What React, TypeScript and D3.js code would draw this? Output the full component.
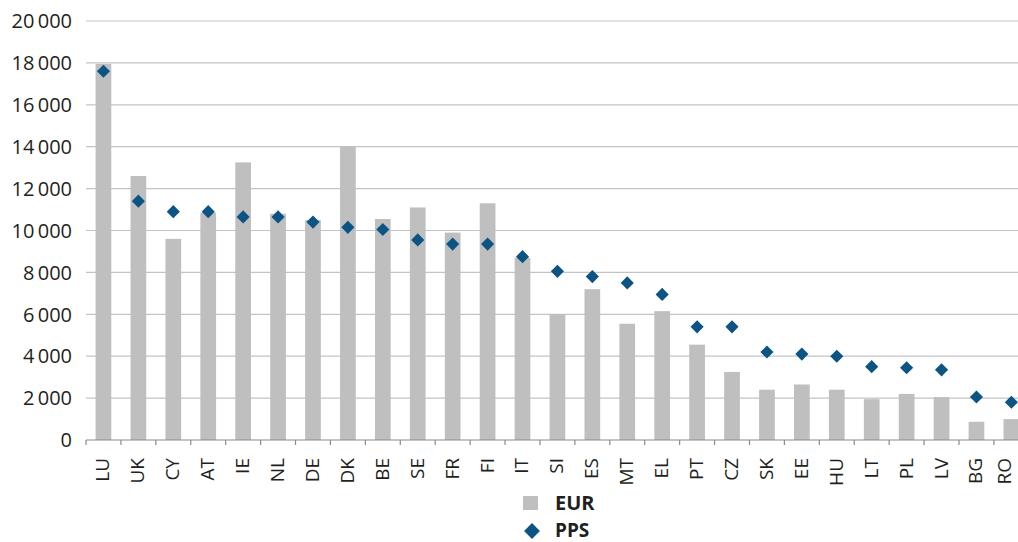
import React from "react";
import * as d3 from "d3";

const countries = ["LU", "UK", "CY", "AT", "IE", "NL", "DE", "DK", "BE", "SE", "FR", "FI", "IT", "SI", "ES", "MT", "EL", "PT", "CZ", "SK", "EE", "HU", "LT", "PL", "LV", "BG", "RO"];
const eurValues = [17950, 12600, 9600, 10850, 13250, 10800, 10500, 14000, 10550, 11100, 9900, 11300, 8700, 6000, 7200, 5550, 6150, 4550, 3250, 2400, 2650, 2400, 1950, 2200, 2050, 870, 1000];
const ppsValues = [17600, 11400, 10900, 10900, 10650, 10650, 10400, 10150, 10050, 9550, 9350, 9350, 8750, 8050, 7800, 7500, 6950, 5400, 5400, 4200, 4100, 4000, 3500, 3450, 3350, 2050, 1800];
const yTicks = [0, 2000, 4000, 6000, 8000, 10000, 12000, 14000, 16000, 18000, 20000];
const legendItems = ["EUR", "PPS"];

const W = 1018;
const H = 542;
const font = "'Open Sans', sans-serif";
const textColor = "#231f20";
const barColor = "#bfbfbf";
const ppsColor = "#0b5483";

const App = () => {
  const left = 86;
  const step = 34.92;
  const bottom = 440;

  const x = d3.scaleBand<string>()
    .domain(countries)
    .range([left, left + step * countries.length])
    .paddingInner(0)
    .paddingOuter(0);

  const y = d3.scaleLinear().domain([0, 20000]).range([bottom, 21]);

  const barW = x.bandwidth() * 0.45;
  const fmt = (v: number) => d3.format(",")(v).replace(/,/g, "\u2009");
  const diamond = d3.symbol().type(d3.symbolDiamond2).size(110);
  const legendDiamond = d3.symbol().type(d3.symbolDiamond2).size(160);

  return (
    <svg
      width={W}
      height={H}
      style={{ position: "absolute", left: 0, top: 0, background: "#fff", display: "block" }}
      fontFamily={font}
    >
      {/* grid */}
      <g>
        {yTicks.filter((t) => t > 0).map((t) => (
          <line key={`g-${t}`} x1={left} x2={W} y1={y(t)} y2={y(t)} stroke="#c3c3c3" strokeWidth={1.2} />
        ))}
      </g>

      {/* y labels */}
      <g>
        {yTicks.map((t) => (
          <text
            key={`yl-${t}`}
            x={72}
            y={y(t)}
            dy="0.36em"
            textAnchor="end"
            fontSize={20}
            fill={textColor}
          >
            {fmt(t)}
          </text>
        ))}
      </g>

      {/* bars */}
      <g>
        {countries.map((c, i) => (
          <rect
            key={`b-${c}`}
            x={(x(c) as number) + x.bandwidth() / 2 - barW / 2}
            y={y(eurValues[i])}
            width={barW}
            height={bottom - y(eurValues[i])}
            fill={barColor}
          />
        ))}
      </g>

      {/* x axis */}
      <g>
        <line x1={left} x2={W} y1={bottom} y2={bottom} stroke="#8a8a8a" strokeWidth={1.2} />
        {countries.map((c) => (
          <line
            key={`t-${c}`}
            x1={x(c) as number}
            x2={x(c) as number}
            y1={bottom}
            y2={bottom + 5}
            stroke="#8a8a8a"
            strokeWidth={1.2}
          />
        ))}
        {countries.map((c) => {
          // last label sits right at the edge, keep it inside
          const cx = Math.min((x(c) as number) + x.bandwidth() / 2 - 0.5, W - 13);
          return (
            <text
              key={`xl-${c}`}
              transform={`translate(${cx},458) rotate(-90)`}
              dy="0.34em"
              textAnchor="end"
              fontSize={19}
              fill={textColor}
            >
              {c}
            </text>
          );
        })}
      </g>

      {/* PPS diamonds */}
      <g>
        {countries.map((c, i) => (
          <path
            key={`d-${c}`}
            d={diamond() as string}
            transform={`translate(${(x(c) as number) + x.bandwidth() / 2},${y(ppsValues[i])})`}
            fill={ppsColor}
          />
        ))}
      </g>

      {/* legend */}
      <g>
        <rect x={523} y={496} width={15} height={14} fill={barColor} />
        <text x={555} y={510} fontSize={20} fontWeight="bold" fill={textColor}>{legendItems[0]}</text>
        <path d={legendDiamond() as string} transform="translate(532,531)" fill={ppsColor} />
        <text x={555} y={537} fontSize={19} fontWeight="bold" fill={textColor}>{legendItems[1]}</text>
      </g>
    </svg>
  );
};

export default App;
